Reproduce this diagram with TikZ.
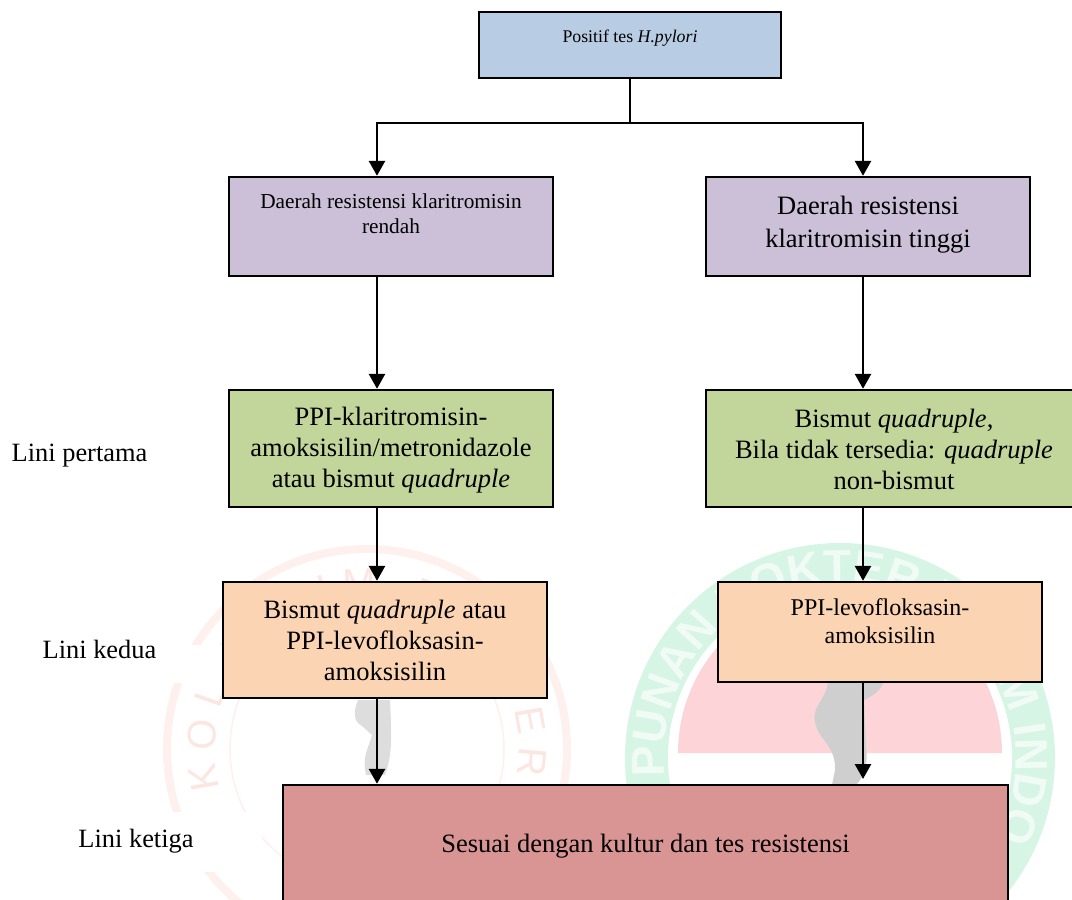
\documentclass[tikz,border=0pt]{standalone}
\usepackage{fontspec}
\setmainfont{Liberation Serif}
\newfontfamily\wmfont{Liberation Sans}
\usetikzlibrary{arrows.meta,decorations.text}
\definecolor{cblue}{HTML}{B8CCE4}
\definecolor{cpurple}{HTML}{CCC0D9}
\definecolor{cgreen}{HTML}{C2D69B}
\definecolor{corange}{HTML}{FBD4B4}
\definecolor{cred}{HTML}{D99594}
\definecolor{wmgreen}{HTML}{F0FBF5}
\definecolor{wmgreenb}{HTML}{D6F5E5}
\definecolor{wmred}{HTML}{FDD5D8}
\definecolor{wmpink}{HTML}{FCE6E2}
\definecolor{wmpinkb}{HTML}{FDF0ED}
\definecolor{wmgrey}{HTML}{CFCFCF}
\newcommand{\topgap}[1]{\rule{0pt}{#1}}
\tikzset{
  x=1pt,y=-1pt,
  box/.style={draw=black,line width=2.4pt,align=center,inner sep=0pt,minimum width=#1},
  box/.default=324pt,
  f18/.style={font=\fontsize{17.8}{25}\selectfont},
  f21/.style={font=\fontsize{21.3}{25}\selectfont},
  f24/.style={font=\fontsize{24}{27.5}\selectfont},
  f26/.style={font=\fontsize{26.5}{31}\selectfont},
  side/.style={font=\fontsize{26.4}{31}\selectfont,inner sep=0pt,anchor=center},
  conn/.style={line width=2.8pt,draw=black},
  arr/.style={conn,-{Triangle[length=15pt,width=16pt]}},
}
\begin{document}
\begin{tikzpicture}
\useasboundingbox (0,0) rectangle (1072,900);
\clip (0,0) rectangle (1072,900);
% watermark, right
\coordinate (wr) at (840,758);
\fill[wmgreenb] (wr) circle[radius=215pt];
\fill[white] (wr) circle[radius=172pt];
\fill[wmred] ([shift={(180:162pt)}]wr |- 0,753) arc[start angle=180,end angle=0,radius=162pt] -- cycle;
\path[decorate,decoration={text along path,text align={fit to path},
  text={|\wmfont\bfseries\fontsize{46}{46}\selectfont\color{wmgreen}|PUNAN DOKTER UMUM INDONES}}]
  ([shift={(186:176pt)}]wr) arc[start angle=186,end angle=-32,radius=176pt];
\fill[wmgrey] (828,682) .. controls (826,700) and (812,705) .. (815,722)
  .. controls (818,740) and (836,745) .. (835,770) -- (832,785) -- (856,785)
  .. controls (866,775) and (868,760) .. (866,745) -- (864,700)
  .. controls (875,695) and (880,690) .. (884,682) -- cycle;
% watermark, left
\coordinate (wl) at (367,749);
\draw[wmpinkb,line width=8pt] (wl) circle[radius=200pt];
\draw[wmpinkb,line width=1.5pt] (wl) circle[radius=137pt];
\path[decorate,decoration={text along path,text align={fit to path},
  text={|\wmfont\fontsize{40}{40}\selectfont\color{wmpink}|KOLEGIUM DOKTER}}]
  ([shift={(195:152pt)}]wl) arc[start angle=195,end angle=-10,radius=152pt];
\fill[white] (0,645) rectangle (223,683);
\fill[white] (0,812) rectangle (262,872);
\fill[wmgrey!70] (358,700) .. controls (352,715) and (355,722) .. (362,726) -- (372,735)
  .. controls (368,750) and (362,755) .. (366,775) -- (385,775)
  .. controls (392,755) and (392,740) .. (390,700) -- cycle;
% boxes
\node[box=302pt,minimum height=66pt,fill=cblue,f18,text height=13pt,text depth=19pt] (top) at (630,45) {Positif tes \textit{H.pylori}};
\node[box,minimum height=99pt,fill=cpurple,f21,text depth=26pt] (pl) at (391,226.5) {Daerah resistensi klaritromisin\\rendah};
\node[box,minimum height=99pt,fill=cpurple,font=\fontsize{26.5}{33}\selectfont,text depth=10pt] (pr) at (868,226.5) {Daerah resistensi\\klaritromisin tinggi};
\node[box,minimum height=117pt,fill=cgreen,f26] (gl) at (391,448.5) {\topgap{21pt}PPI-klaritromisin-\\amoksisilin/metronidazole\\atau bismut \textit{quadruple}};
\node[box=376pt,minimum height=117pt,fill=cgreen,f26] (gr) at (894,448.5) {\topgap{21pt}Bismut \textit{quadruple},\\Bila tidak tersedia: \textit{quadruple}\\non-bismut};
\node[box,minimum height=116pt,fill=corange,f26] (ol) at (385,640) {Bismut \textit{quadruple} atau\\PPI-levofloksasin-\\amoksisilin};
\node[box,minimum height=100pt,fill=corange,f24,text depth=22pt] (or) at (880,632) {PPI-levofloksasin-\\amoksisilin};
\node[box=725pt,minimum height=122pt,fill=cred,f26] (ke) at (645.5,846) {Sesuai dengan kultur dan tes resistensi};
% side labels
\node[side] (l1) at (79.5,456) {Lini pertama};
\node[side] (l2) at (99.5,649) {Lini kedua};
\node[side] (l3) at (136,841) {Lini ketiga};
% connectors
\coordinate (xl) at (377,123);
\coordinate (xr) at (863,123);
\coordinate (xm) at (630,123);
\coordinate (endr) at (863,779);
\draw[conn] (xm |- top.south) -- (xm);
\draw[conn,line cap=rect] (xl) -- (xr);
\draw[arr] (xl) -- (xl |- pl.north);
\draw[arr] (xr) -- (xr |- pr.north);
\draw[arr] (xl |- pl.south) -- (xl |- gl.north);
\draw[arr] (xr |- pr.south) -- (xr |- gr.north);
\draw[arr] (xl |- gl.south) -- (xl |- ol.north);
\draw[arr] (xr |- gr.south) -- (xr |- or.north);
\draw[arr] (xl |- ol.south) -- (xl |- ke.north);
\draw[arr] (xr |- or.south) -- (endr);
\end{tikzpicture}
\end{document}
